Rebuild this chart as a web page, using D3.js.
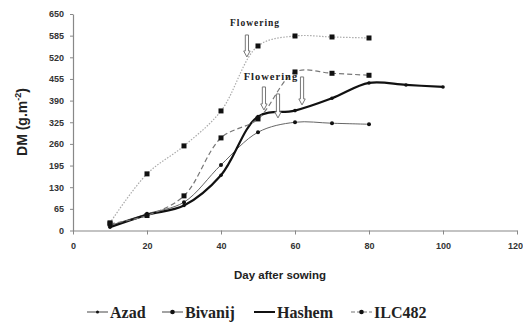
<!DOCTYPE html>
<html>
<head>
<meta charset="utf-8">
<script src="https://cdn.jsdelivr.net/npm/d3@7"></script>
<style>
  body { margin: 0; background: #fff; }
  svg { display: block; }
</style>
</head>
<body>
<div id="chart"></div>
<script>
// data
const days = [10, 20, 30, 40, 50, 60, 70, 80, 90, 100];
const azad = [15, 50, 85, 197, 295, 325, 322, 319];
const bivanij = [23, 170, 254, 359, 554, 584, 581, 578];
const hashem = [10, 47, 75, 166, 342, 360, 397, 443, 437, 431];
const ilc482 = [20, 45, 104, 278, 335, 476, 472, 466];
const xTicks = [0, 20, 40, 60, 80, 100, 120];
const yTicks = [0, 65, 130, 195, 260, 325, 390, 455, 520, 585, 650];

// flowering annotations: [day, value, font size] and arrows [day, from, to]
const flowerLabels = [[49.2, 614, 9.5], [53.5, 452, 10.5]];
const flowerArrows = [[47, 587, 521], [51.6, 431, 362], [55.4, 410, 338], [61.9, 461, 377]];

const width = 523, height = 324;
const svg = d3.select('#chart').append('svg')
  .attr('width', width)
  .attr('height', height);

const x = d3.scaleLinear().domain([0, 120]).range([73, 517]);
const y = d3.scaleLinear().domain([0, 650]).range([230.5, 14]);

// X Axis
const xAxis = svg.append('g')
  .attr('transform', `translate(0,${y(0)})`)
  .call(d3.axisBottom(x).tickValues(xTicks).tickSize(4).tickSizeOuter(0));
// Y Axis
const yAxis = svg.append('g')
  .attr('transform', `translate(${x(0)},0)`)
  .call(d3.axisLeft(y).tickValues(yTicks).tickSize(3).tickSizeOuter(0));

[xAxis, yAxis].forEach(a => {
  a.select('.domain').attr('stroke', '#888').attr('stroke-width', 1.2);
  a.selectAll('.tick line').attr('stroke', '#888');
  a.selectAll('text')
    .attr('font-family', 'Arial, "Liberation Sans", sans-serif')
    .attr('font-size', '9px')
    .attr('font-weight', 'bold')
    .attr('fill', '#333');
});
xAxis.selectAll('text').attr('y', 12);
// last label sits at the window edge, keep it inside
xAxis.selectAll('.tick').filter(d => d === 120).select('text')
  .attr('text-anchor', 'end').attr('x', 5.5);
yAxis.selectAll('text').attr('x', -9);

// axis labels
svg.append('text')
  .attr('x', 280).attr('y', 279)
  .attr('text-anchor', 'middle')
  .attr('font-family', 'Arial, "Liberation Sans", sans-serif')
  .attr('font-size', '11.5px')
  .attr('font-weight', 'bold')
  .attr('fill', '#222')
  .text('Day after sowing');

const yLab = svg.append('text')
  .attr('transform', 'translate(27,122) rotate(-90)')
  .attr('text-anchor', 'middle')
  .attr('font-family', 'Arial, "Liberation Sans", sans-serif')
  .attr('font-size', '14px')
  .attr('font-weight', 'bold')
  .attr('fill', '#222');
yLab.append('tspan').text('DM (g.m');
yLab.append('tspan').attr('font-size', '9px').attr('dy', -6).text('-2');
yLab.append('tspan').attr('dy', 6).text(')');

// series
const series = [
  { name: 'Azad', values: azad, stroke: '#666', width: 1, dash: null, marker: 'dot', size: 2 },
  { name: 'Bivanij', values: bivanij, stroke: '#aaa', width: 1.2, dash: '1.5,1.5', marker: 'square', size: 5 },
  { name: 'Hashem', values: hashem, stroke: '#111', width: 2.2, dash: null, marker: 'dot', size: 1.8 },
  { name: 'ILC482', values: ilc482, stroke: '#777', width: 1.2, dash: '5,3', marker: 'square', size: 5 }
];

const line = d3.line()
  .x(d => x(d.day))
  .y(d => y(d.v))
  .curve(d3.curveCatmullRom.alpha(0.5));

series.forEach(s => {
  const pts = s.values.map((v, i) => ({ day: days[i], v: v }));
  svg.append('path')
    .attr('d', line(pts))
    .attr('fill', 'none')
    .attr('stroke', s.stroke)
    .attr('stroke-width', s.width)
    .attr('stroke-dasharray', s.dash);
  if (s.marker === 'square') {
    svg.selectAll(null).data(pts).enter().append('rect')
      .attr('x', d => x(d.day) - s.size / 2)
      .attr('y', d => y(d.v) - s.size / 2)
      .attr('width', s.size).attr('height', s.size)
      .attr('fill', '#111');
  } else {
    svg.selectAll(null).data(pts).enter().append('circle')
      .attr('cx', d => x(d.day))
      .attr('cy', d => y(d.v))
      .attr('r', s.size)
      .attr('fill', '#111');
  }
});

// flowering labels + hollow arrows
flowerLabels.forEach(f => {
  svg.append('text')
    .attr('x', x(f[0])).attr('y', y(f[1]))
    .attr('text-anchor', 'middle')
    .attr('font-family', '"Liberation Serif", "Times New Roman", serif')
    .attr('font-size', f[2] + 'px')
    .attr('font-weight', 'bold')
    .attr('letter-spacing', '1px')
    .attr('fill', '#222')
    .text('Flowering');
});

flowerArrows.forEach(a => {
  const cx = x(a[0]), y1 = y(a[1]), y2 = y(a[2]);
  const w = 1.6, hw = 3.2, hh = 6;
  const p = `M${cx - w},${y1} L${cx + w},${y1} L${cx + w},${y2 - hh} L${cx + hw},${y2 - hh} L${cx},${y2} L${cx - hw},${y2 - hh} L${cx - w},${y2 - hh} Z`;
  svg.append('path')
    .attr('d', p)
    .attr('fill', '#fff')
    .attr('stroke', '#777')
    .attr('stroke-width', 1);
});

// legend
const legendItems = [
  { s: series[0], x0: 87 },
  { s: series[1], x0: 162 },
  { s: series[2], x0: 254 },
  { s: series[3], x0: 351 }
];
const ly = 312;
legendItems.forEach(item => {
  const s = item.s;
  const g = svg.append('g').attr('transform', `translate(${item.x0},${ly})`);
  g.append('line')
    .attr('x1', 0).attr('x2', 21).attr('y1', 0).attr('y2', 0)
    .attr('stroke', s.name === 'Bivanij' ? '#666' : s.stroke)
    .attr('stroke-width', s.name === 'Hashem' ? 2 : 1.2)
    .attr('stroke-dasharray', s.name === 'ILC482' ? '4,2' : null);
  if (s.name !== 'Hashem') {
    g.append('circle')
      .attr('cx', 10.5).attr('cy', 0)
      .attr('r', s.name === 'Azad' ? 1.5 : 2.3)
      .attr('fill', '#111');
  }
  g.append('text')
    .attr('x', 23).attr('y', 5.5)
    .attr('font-family', '"Liberation Serif", "Times New Roman", serif')
    .attr('font-size', '16px')
    .attr('font-weight', 'bold')
    .attr('fill', '#222')
    .text(s.name);
});
</script>
</body>
</html>
